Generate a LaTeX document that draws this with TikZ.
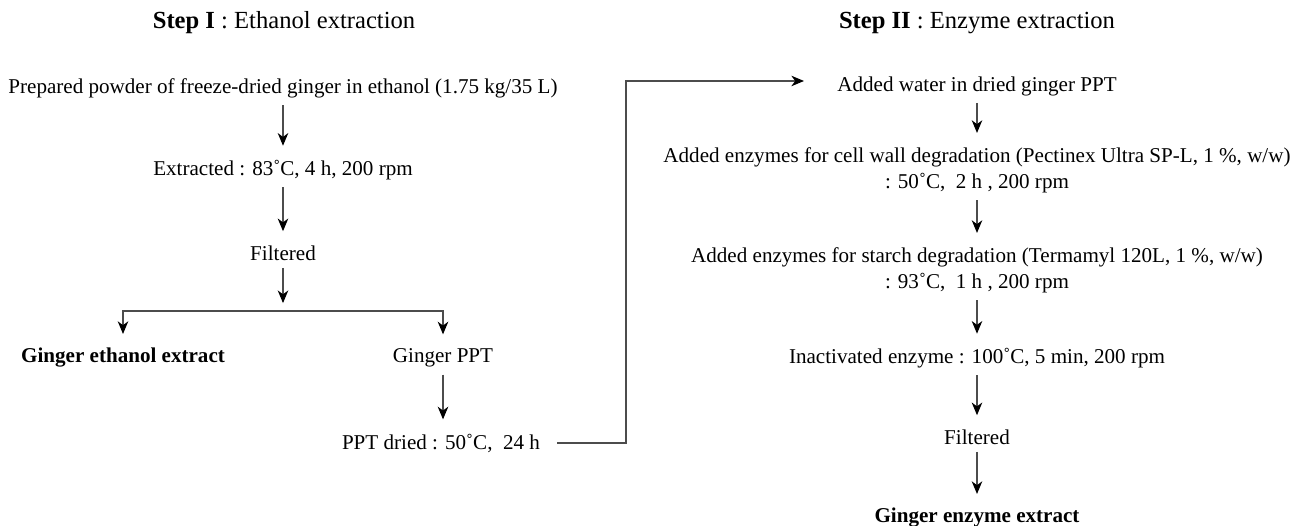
\documentclass[tikz,border=0pt]{standalone}
\usepackage{fontspec}
\setmainfont{Liberation Serif}
\usepackage{tikz}
\usetikzlibrary{arrows.meta}
\tikzstyle{stage}=[align=center, inner sep=0.333em]
\tikzstyle{heading}=[font=\fontsize{14pt}{16pt}\selectfont]
\tikzstyle{flow}=[draw=black!70, line width=0.6pt, shorten >=4pt, -{Stealth[length=7.2pt, width=6pt, inset=2.2pt, color=black]}]

\begin{document}
\begin{tikzpicture}[x=0.02cm, y=-0.02cm]
	\fontsize{12pt}{14.8pt}\selectfont
	\useasboundingbox (0,0) rectangle (1302,526);
	% step I
	\node[stage, heading] (stepA) at (284,23) {\textbf{Step I} : Ethanol extraction};
	\node[stage] (prep) at (283,88) {Prepared powder of freeze-dried ginger in ethanol (1.75 kg/35 L)};
	\node[stage] (extr) at (283,170) {Extracted : 83˚C, 4 h, 200 rpm};
	\node[stage] (filtA) at (283,253) {Filtered};
	\node[stage] (etoh) at (123,358) {\textbf{Ginger ethanol extract}};
	\node[stage] (ppt) at (443,358) {Ginger PPT};
	\node[stage] (dried) at (441,443) {PPT dried : 50˚C,~ 24 h};
	\coordinate (split) at (283,311);
	\coordinate (jog) at (626,81);
	
	% step II
	\node[stage, heading] (stepB) at (977,23) {\textbf{Step II} : Enzyme extraction};
	\node[stage] (water) at (977,86) {Added water in dried ginger PPT};
	\node[stage] (cellw) at (977,170) {Added enzymes for cell wall degradation (Pectinex Ultra SP-L, 1 \%, w/w)\\: 50˚C,~ 2 h , 200 rpm};
	\node[stage] (starch) at (977,270) {Added enzymes for starch degradation (Termamyl 120L, 1 \%, w/w)\\: 93˚C,~ 1 h , 200 rpm};
	\node[stage] (inact) at (977,358) {Inactivated enzyme : 100˚C, 5 min, 200 rpm};
	\node[stage] (filtB) at (977,437) {Filtered};
	\node[stage] (enz) at (977,518) {\textbf{Ginger enzyme extract}};
	
	\draw[flow] (prep) -- (extr);
	\draw[flow] (extr) -- (filtA);
	\draw[flow, shorten >=4.5pt] (filtA) -- (split);
	\draw[flow] (split) -| (etoh);
	\draw[flow] (split) -| (ppt);
	\draw[flow] (ppt) -- (ppt |- dried.north);
	\draw[flow, shorten <=5.7pt, shorten >=14.8pt] (dried) -| (jog) -- (jog -| water.west);
	
	\draw[flow] (water) -- (cellw);
	\draw[flow] (cellw) -- (starch);
	\draw[flow] (starch) -- (inact);
	\draw[flow] (inact) -- (filtB);
	\draw[flow] (filtB) -- (enz);
\end{tikzpicture}
\end{document}
